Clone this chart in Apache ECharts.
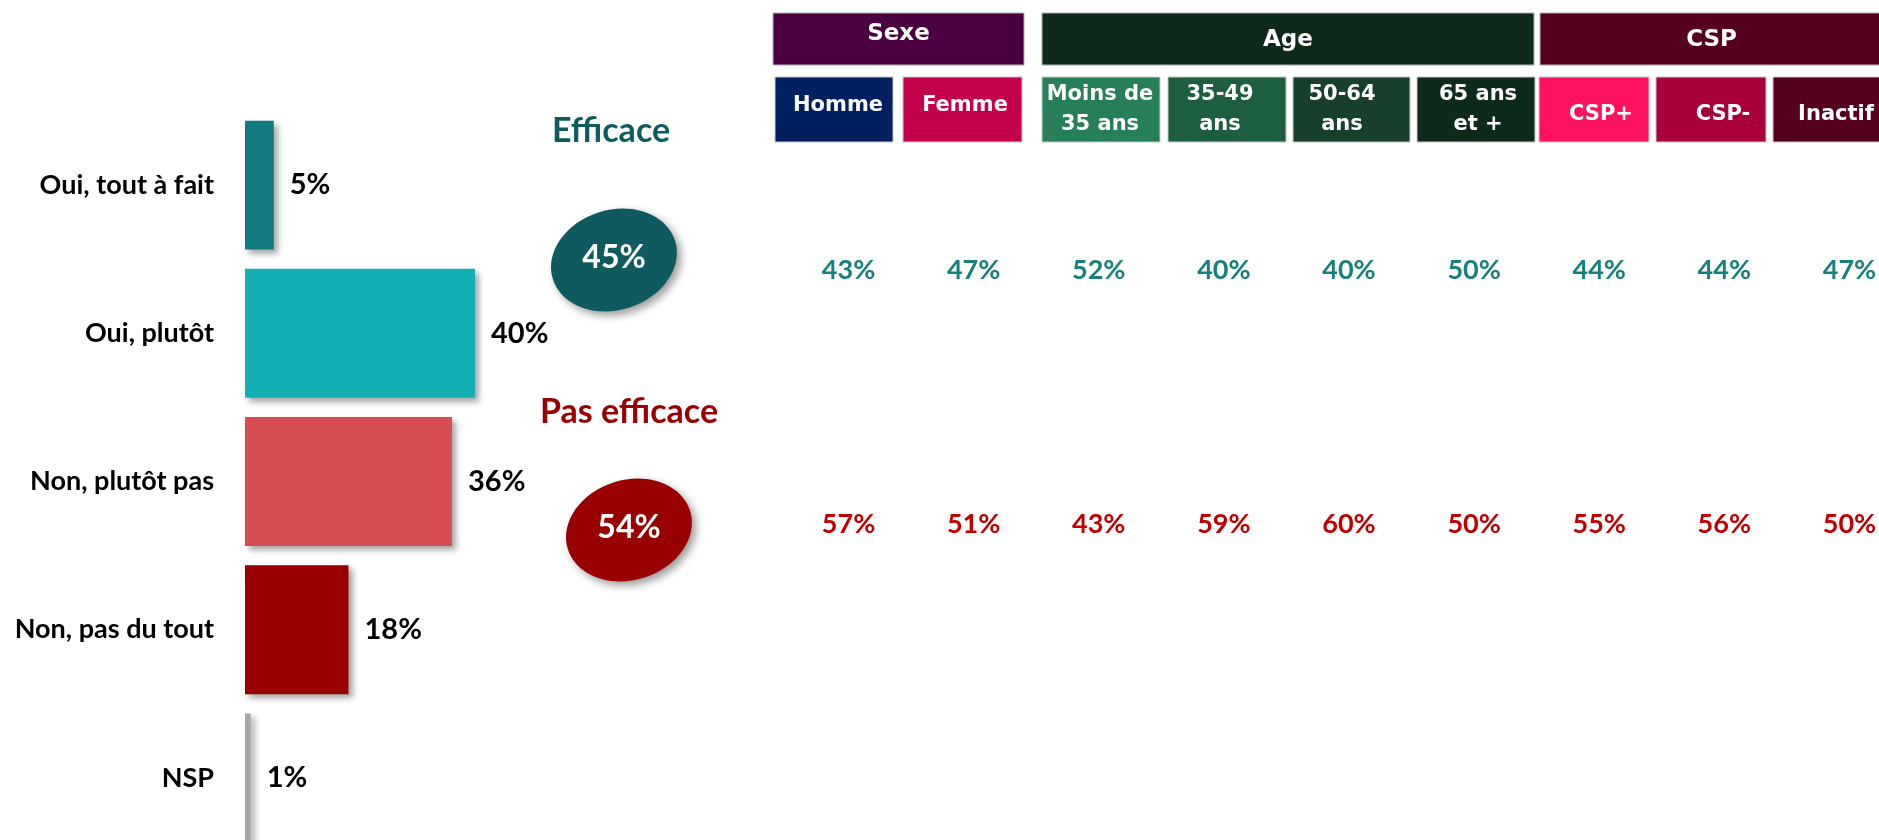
<!DOCTYPE html>
<html>
<head>
<meta charset="utf-8">
<style>
  html, body { margin: 0; padding: 0; background: #fff; }
  #main { width: 1879px; height: 840px; }
</style>
<script src="https://cdn.jsdelivr.net/npm/echarts@6/dist/echarts.min.js"></script>
</head>
<body>
<div id="main"></div>
<script>
// réponses globales
const answers = ['Oui, tout à fait', 'Oui, plutôt', 'Non, plutôt pas', 'Non, pas du tout', 'NSP']
const answerValues = [5, 40, 36, 18, 1]
const answerColors = ['#117a80', '#14aeb5', '#d64d51', '#990000', '#a6a6a6']

// totaux
const totalLabels = ['Efficace', 'Pas efficace']
const totalValues = [45, 54]

// détail par cible
const groups = ['Sexe', 'Age', 'CSP']
const segments = ['Homme', 'Femme', 'Moins de\n35 ans', '35-49\nans', '50-64\nans', '65 ans\net +', 'CSP+', 'CSP-', 'Inactif']
const efficace = [43, 47, 52, 40, 40, 50, 44, 44, 47]
const pasEfficace = [57, 51, 43, 59, 60, 50, 55, 56, 50]

const teal = '#17807e'
const red = '#c00000'

// mise en page de l'en-tête (x, largeur, couleur)
const groupBoxes = [
  { x: 773, w: 251, color: '#4b0042', ty: 34 },
  { x: 1042, w: 492, color: '#0d2a1b', ty: 40 },
  { x: 1540, w: 345, color: '#55001e', ty: 40 }
]
const segBoxes = [
  { x: 775, w: 118, color: '#00205f', tx: 838 },
  { x: 903, w: 119, color: '#c5004b', tx: 965 },
  { x: 1042, w: 118, color: '#267f57', tx: 1100 },
  { x: 1168, w: 118, color: '#1d5e3f', tx: 1220 },
  { x: 1293, w: 117, color: '#173f2c', tx: 1342 },
  { x: 1417, w: 118, color: '#0d2a1b', tx: 1478 },
  { x: 1539, w: 110, color: '#ff1260', tx: 1601 },
  { x: 1656, w: 110, color: '#a8003a', tx: 1723 },
  { x: 1773, w: 115, color: '#55001e', tx: 1836 }
]

const chart = echarts.init(document.getElementById('main'))

const graphics = []
groupBoxes.forEach((b, i) => {
  graphics.push({
    type: 'rect',
    shape: { x: b.x, y: 13, width: b.w, height: 52 },
    style: { fill: b.color, stroke: '#b0b0b0', lineWidth: 1 }
  })
  graphics.push({
    type: 'text',
    x: b.x + b.w / 2 - (i === 2 ? 1 : 0),
    y: b.ty,
    style: {
      text: groups[i],
      fill: '#fff',
      font: 'bold 23px "DejaVu Sans"',
      align: 'center',
      verticalAlign: 'middle'
    }
  })
})
segBoxes.forEach((b, i) => {
  const twoLines = segments[i].indexOf('\n') >= 0
  graphics.push({
    type: 'rect',
    shape: { x: b.x, y: 77, width: b.w, height: 65 },
    style: { fill: b.color, stroke: '#c8c8c8', lineWidth: 1 }
  })
  graphics.push({
    type: 'text',
    x: b.tx,
    y: twoLines ? 110 : (i < 2 ? 106 : 115),
    style: {
      text: segments[i],
      fill: '#fff',
      font: 'bold 21px "DejaVu Sans"',
      lineHeight: 30,
      align: 'center',
      verticalAlign: 'middle'
    }
  })
})

// titres et bulles des totaux
const bubbles = [
  { tx: 611, ty: 131, cx: 614, cy: 260, color: '#0e5a5e', textColor: '#0f5c5e' },
  { tx: 629, ty: 412, cx: 629, cy: 530, color: '#990000', textColor: '#990000' }
]
bubbles.forEach((b, i) => {
  graphics.push({
    type: 'text',
    x: b.tx,
    y: b.ty,
    style: {
      text: totalLabels[i],
      fill: b.textColor,
      font: 'bold 34px Lato',
      align: 'center',
      verticalAlign: 'middle'
    }
  })
  graphics.push({
    type: 'group',
    x: b.cx,
    y: b.cy,
    rotation: 0.3,
    children: [{
      type: 'ellipse',
      shape: { cx: 0, cy: 0, rx: 64, ry: 50 },
      style: {
        fill: b.color,
        shadowBlur: 8,
        shadowOffsetX: 4,
        shadowOffsetY: 4,
        shadowColor: 'rgba(0,0,0,0.4)'
      }
    }]
  })
  graphics.push({
    type: 'text',
    x: b.cx,
    y: b.cy - 2,
    style: {
      text: totalValues[i] + '%',
      fill: '#fff',
      font: 'bold 32px Lato',
      align: 'center',
      verticalAlign: 'middle'
    }
  })
})

const tableData = []
efficace.forEach((v, i) => {
  tableData.push({ value: [i, 0, v], label: { color: teal } })
})
pasEfficace.forEach((v, i) => {
  tableData.push({ value: [i, 1, v], label: { color: red } })
})

const option = {
  animation: false,
  backgroundColor: '#fff',
  grid: [
    { left: 245, top: 111, width: 575, height: 741, outerBoundsMode: 'none', containLabel: false },
    { left: 786, top: 143, width: 1126, height: 508, outerBoundsMode: 'none', containLabel: false }
  ],
  xAxis: [
    { type: 'value', gridIndex: 0, min: 0, max: 100, show: false },
    { type: 'category', gridIndex: 1, data: segments, show: false }
  ],
  yAxis: [
    {
      type: 'category',
      gridIndex: 0,
      data: answers,
      inverse: true,
      axisLine: { show: false },
      axisTick: { show: false },
      axisLabel: {
        margin: 31,
        color: '#000',
        fontFamily: 'Lato',
        fontWeight: 'bold',
        fontSize: 27
      }
    },
    {
      type: 'category',
      gridIndex: 1,
      data: totalLabels,
      inverse: true,
      show: false
    }
  ],
  series: [
    {
      type: 'bar',
      xAxisIndex: 0,
      yAxisIndex: 0,
      barCategoryGap: '13%',
      data: answerValues.map((v, i) => ({
        value: v,
        itemStyle: { color: answerColors[i] }
      })),
      itemStyle: {
        shadowBlur: 6,
        shadowOffsetX: 4,
        shadowOffsetY: 4,
        shadowColor: 'rgba(0,0,0,0.35)'
      },
      label: {
        show: true,
        position: 'right',
        distance: 16,
        formatter: '{c}%',
        color: '#000',
        fontFamily: 'Lato',
        fontWeight: 'bold',
        fontSize: 29
      }
    },
    {
      type: 'scatter',
      xAxisIndex: 1,
      yAxisIndex: 1,
      symbolSize: 2,
      itemStyle: { color: 'rgba(255,255,255,0)', opacity: 1 },
      data: tableData,
      label: {
        show: true,
        position: 'inside',
        opacity: 1,
        formatter: (p) => p.value[2] + '%',
        fontFamily: 'Lato',
        fontWeight: 'bold',
        fontSize: 27,
        textBorderWidth: 0
      }
    }
  ],
  graphic: graphics
}
chart.setOption(option)
</script>
</body>
</html>
